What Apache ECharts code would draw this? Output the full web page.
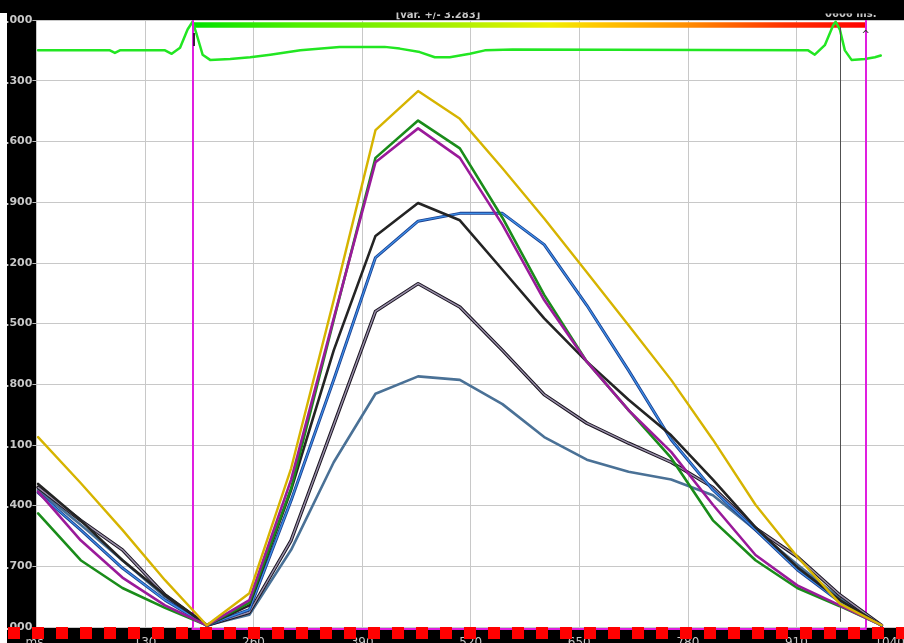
<!DOCTYPE html>
<html><head><meta charset="utf-8">
<script src="https://cdn.jsdelivr.net/npm/echarts@6/dist/echarts.min.js"></script>
<style>html,body{margin:0;padding:0;background:#000;overflow:hidden}#c{width:904px;height:643px}</style>
</head><body><div id="c"></div>
<script>
// ---- data ----
const xMs = [2,53,103,154,204,255,305,356,406,457,507,558,608,659,709,760,810,861,911,962,1012];
const yellowVals = [2.19,1.66,1.12,0.54,0.02,0.39,1.83,3.77,5.73,6.18,5.86,5.29,4.71,4.09,3.48,2.85,2.16,1.41,0.81,0.27,0.02];
const greenVals  = [1.31,0.77,0.45,0.22,0.02,0.28,1.60,3.54,5.41,5.84,5.52,4.72,3.83,3.06,2.50,1.95,1.23,0.77,0.45,0.24,0.02];
const purpleVals = [1.56,1.00,0.57,0.25,0.02,0.31,1.70,3.56,5.36,5.75,5.41,4.64,3.77,3.06,2.50,2.02,1.41,0.83,0.48,0.25,0.02];
const blackVals  = [1.65,1.23,0.77,0.37,0.02,0.25,1.58,3.19,4.51,4.89,4.69,4.12,3.56,3.06,2.62,2.21,1.70,1.15,0.69,0.31,0.02];
const blueVals   = [1.55,1.12,0.68,0.31,0.02,0.20,1.46,2.85,4.26,4.68,4.77,4.77,4.41,3.71,2.96,2.16,1.58,1.12,0.66,0.29,0.02];
const greyVals   = [1.61,1.23,0.89,0.37,0.02,0.17,1.00,2.33,3.64,3.96,3.69,3.19,2.68,2.35,2.12,1.90,1.61,1.14,0.81,0.37,0.02];
const steelVals  = [1.58,1.18,0.77,0.35,0.02,0.14,0.89,1.90,2.69,2.89,2.85,2.57,2.19,1.93,1.79,1.70,1.52,1.12,0.72,0.33,0.02];

const traceMs  = [2,88,94,100,154,162,172,181,187,192,199,208,232,256,280,316,363,417,435,459,477,495,519,537,570,924,932,944,954,957,962,968,976,992,1004,1011];
const traceVal = [6.65,6.65,6.62,6.65,6.65,6.61,6.68,6.89,6.98,6.83,6.60,6.54,6.55,6.57,6.60,6.65,6.69,6.69,6.67,6.63,6.57,6.57,6.61,6.65,6.66,6.65,6.60,6.71,6.94,6.98,6.89,6.65,6.54,6.55,6.57,6.59];

const xTickLabels = ['ms.','130','260','390','520','650','780','910','1040'];
const yTickLabels = ['0.000','0.700','1.400','2.100','2.800','3.500','4.200','4.900','5.600','6.300','7.000'];
const cursorLeft = 187, cursorRight = 993, markerMs = 962;
const topText = '[var. +/- 3.283]', rightText = '0606 ms.';

const pairs = arr => xMs.map((x, i) => [x, arr[i]]);
const traceData = traceMs.map((x, i) => [x, traceVal[i]]);

const chart = echarts.init(document.getElementById('c'), null, {renderer: 'canvas'});
const lineS = (name, data, color, width, z) => ({
  name, type: 'line', data, symbol: 'none', z: z || 2, silent: true,
  lineStyle: {color, width, join: 'round', cap: 'round'}, animation: false
});

const option = {
  backgroundColor: '#000',
  animation: false,
  grid: {left: 36.4, width: 868.6, top: 20, bottom: 16, show: true, backgroundColor: '#fff', borderWidth: 0,
    outerBoundsMode: 'none', containLabel: false},
  xAxis: {
    type: 'value', min: 0, max: 1040, interval: 130,
    axisLine: {show: false}, axisTick: {show: false},
    splitLine: {show: true, lineStyle: {color: '#c8c8c8', width: 1}},
    axisLabel: {color: '#c8c8c8', fontSize: 12, fontFamily: 'DejaVu Sans', margin: 10, alignMaxLabel: 'right',
      formatter: v => xTickLabels[Math.round(v / 130)]}
  },
  yAxis: {
    type: 'value', min: 0, max: 7, interval: 0.7,
    axisLine: {show: false},
    axisTick: {show: true, length: 4, lineStyle: {color: '#b8b8b8'}},
    splitLine: {show: true, lineStyle: {color: '#c8c8c8', width: 1}},
    axisLabel: {color: '#c8c8c8', fontSize: 11, fontWeight: 'bold', fontFamily: 'DejaVu Sans', margin: 4,
      formatter: v => yTickLabels[Math.round(v / 0.7)]}
  },
  series: [
    Object.assign(lineS('trace', traceData, '#22e622', 2.5, 3), {
      markArea: {silent: true, itemStyle: {
        color: new echarts.graphic.LinearGradient(0, 0, 1, 0, [
          {offset: 0, color: '#00e000'}, {offset: 0.16, color: '#50ee00'},
          {offset: 0.4, color: '#b0f000'}, {offset: 0.53, color: '#f0f000'},
          {offset: 0.6, color: '#ffc800'}, {offset: 0.73, color: '#ff9000'},
          {offset: 0.88, color: '#ff3000'}, {offset: 1, color: '#ff0000'}])},
        data: [[{xAxis: cursorLeft, yAxis: 6.91}, {xAxis: cursorRight, yAxis: 6.975}]]},
      markLine: {silent: true, symbol: 'none', label: {show: false},
        lineStyle: {color: '#e01ee0', width: 2, type: 'solid'},
        data: [{xAxis: cursorLeft}, {xAxis: cursorRight},
          [{coord: [markerMs, 6.92], lineStyle: {color: '#505050', width: 1, type: 'solid'}}, {coord: [markerMs, 0.06]}]]}
    }),
    lineS('steel', pairs(steelVals), '#4a7196', 2.6, 4),
    lineS('greyOutline', pairs(greyVals), '#1a1420', 3.4, 5),
    lineS('grey', pairs(greyVals), '#9a90aa', 1.4, 6),
    lineS('blueOutline', pairs(blueVals), '#1b3f8f', 3.0, 7),
    lineS('blue', pairs(blueVals), '#3d8ee6', 1.3, 8),
    lineS('black', pairs(blackVals), '#242424', 2.6, 9),
    lineS('green', pairs(greenVals), '#1a8c1a', 2.6, 10),
    lineS('purple', pairs(purpleVals), '#9a1a9a', 2.6, 11),
    lineS('yellow', pairs(yellowVals), '#d6b400', 2.4, 12)
  ]
};
chart.setOption(option);

const [xl, yb] = chart.convertToPixel({gridIndex: 0}, [cursorLeft, 0]);
const [xr] = chart.convertToPixel({gridIndex: 0}, [cursorRight, 0]);
const [, yc1] = chart.convertToPixel({gridIndex: 0}, [cursorLeft, 6.85]);
const [, yc2] = chart.convertToPixel({gridIndex: 0}, [cursorLeft, 6.7]);

chart.setOption({graphic: [
  {type: 'line', z: 1, silent: true, shape: {x1: xl, y1: yb + 2, x2: xr, y2: yb + 2}, style: {stroke: '#e01ee0', lineWidth: 2}},
  {type: 'line', z: 2, silent: true, shape: {x1: 8, y1: yb + 6, x2: 904, y2: yb + 6}, style: {stroke: '#ff0000', lineWidth: 12, lineDash: [12, 12]}},
  {type: 'line', z: 2, silent: true, shape: {x1: xl, y1: yb, x2: xl, y2: yb + 3}, style: {stroke: '#e01ee0', lineWidth: 2}},
  {type: 'line', z: 2, silent: true, shape: {x1: xr, y1: yb, x2: xr, y2: yb + 3}, style: {stroke: '#e01ee0', lineWidth: 2}},
  {type: 'line', z: 20, silent: true, shape: {x1: xl + 1.5, y1: yc1, x2: xl + 1.5, y2: yc2}, style: {stroke: '#000', lineWidth: 1.5}},
  {type: 'text', z: 20, silent: true, x: xr, y: yc1 + 2, style: {text: '^', fill: '#333', font: '10px DejaVu Sans', align: 'center', verticalAlign: 'middle'}},
  {type: 'text', z: 50, silent: true, x: 438, y: 20.5, style: {text: topText, fill: '#c8c8c8', font: 'bold 10px DejaVu Sans', align: 'center', verticalAlign: 'bottom'}},
  {type: 'text', z: 50, silent: true, x: 825, y: 19.5, style: {text: rightText, fill: '#c8c8c8', font: 'bold 10px DejaVu Sans', align: 'left', verticalAlign: 'bottom'}},
  {type: 'rect', z: 60, silent: true, shape: {x: 300, y: 0, width: 604, height: 12.5}, style: {fill: '#000'}},
  {type: 'rect', z: 61, silent: true, shape: {x: 800, y: 0, width: 104, height: 13.5}, style: {fill: '#000'}},
  {type: 'rect', z: 100, silent: true, shape: {x: 0, y: 13, width: 7, height: 630}, style: {fill: '#fff'}}
]});
</script></body></html>
